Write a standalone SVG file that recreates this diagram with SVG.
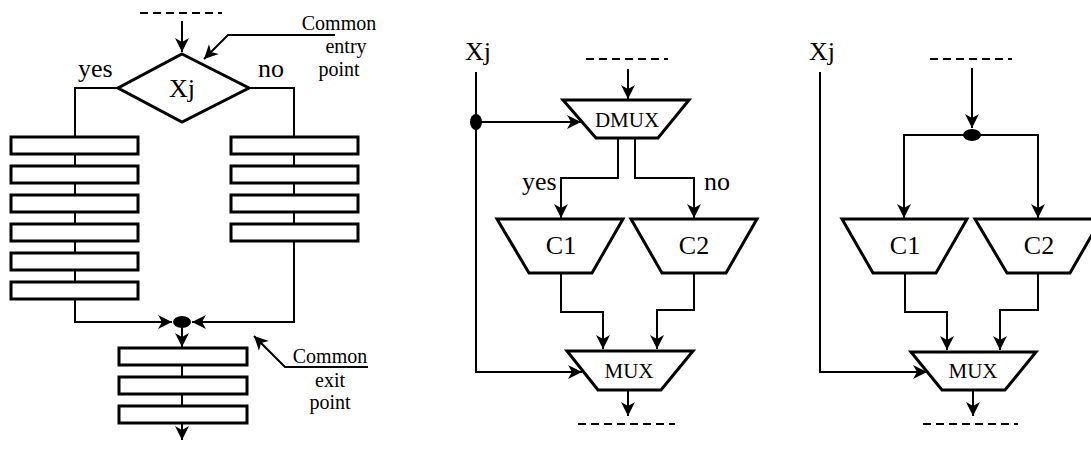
<svg xmlns="http://www.w3.org/2000/svg" width="1091" height="453" viewBox="0 0 1091 453" font-family="'Liberation Serif', 'DejaVu Serif', serif">
<style>
.shape{fill:#fff;stroke:#000;stroke-width:3;stroke-linejoin:miter}
.ln{fill:none;stroke:#000;stroke-width:2}
.dash{fill:none;stroke:#000;stroke-width:2;stroke-dasharray:8,5}
text{font-family:'Liberation Serif','DejaVu Serif',serif;fill:#000}
.big{font-size:26px}
.mid{font-size:21px}
.sm{font-size:20px}
</style>
<defs>
<marker id="ah" markerUnits="userSpaceOnUse" markerWidth="18" markerHeight="16" viewBox="-16 -8 18 16" refX="0" refY="0" orient="auto">
<path d="M0,0 L-14,-7 L-10,0 L-14,7 Z" fill="#000"/>
</marker>
</defs>
<rect width="1091" height="453" fill="#fff"/>

<!-- LEFT DIAGRAM -->
<g id="connectors-left">
<path class="dash" d="M140,13 H222"/>
<path class="ln" d="M182,21 V52" marker-end="url(#ah)"/>
<path class="ln" d="M118,88 H75 V137"/>
<path class="ln" d="M249,88 H294 V137"/>
<path class="ln" d="M75,154 V299"/>
<path class="ln" d="M294,154 V241"/>
<path class="ln" d="M75,299 V322 H172" marker-end="url(#ah)"/>
<path class="ln" d="M294,241 V322 H192" marker-end="url(#ah)"/>
<path class="ln" d="M182,328 V347" marker-end="url(#ah)"/>
<path class="ln" d="M182,365 V407"/>
<path class="ln" d="M182,423 V440" marker-end="url(#ah)"/>
<path class="ln" d="M335,35 H228 L204,59" marker-end="url(#ah)"/>
<path class="ln" d="M368,367 H285 L254,336" marker-end="url(#ah)"/>
</g>
<g id="decision-xj">
<polygon class="shape" points="182,54 249,88 182,122 118,88"/>
<text class="big" x="182" y="97" text-anchor="middle" font-family="Liberation Serif, serif">Xj</text>
</g>
<g id="yes-branch">
<rect class="shape" x="11" y="137" width="127" height="17"/>
<rect class="shape" x="11" y="166" width="127" height="17"/>
<rect class="shape" x="11" y="195" width="127" height="17"/>
<rect class="shape" x="11" y="224" width="127" height="17"/>
<rect class="shape" x="11" y="253" width="127" height="17"/>
<rect class="shape" x="11" y="282" width="127" height="17"/>
</g>
<g id="no-branch">
<rect class="shape" x="231" y="137" width="127" height="17"/>
<rect class="shape" x="231" y="166" width="127" height="17"/>
<rect class="shape" x="231" y="195" width="127" height="17"/>
<rect class="shape" x="231" y="224" width="127" height="17"/>
</g>
<g id="join-point">
<ellipse cx="182" cy="322" rx="9" ry="6" fill="#000"/>
</g>
<g id="common-block">
<rect class="shape" x="119" y="348" width="128" height="17"/>
<rect class="shape" x="119" y="377" width="128" height="17"/>
<rect class="shape" x="119" y="406" width="128" height="17"/>
</g>
<g id="labels-left" font-family="Liberation Serif, serif">
<text class="big" x="78" y="77">yes</text>
<text class="big" x="258" y="77">no</text>
<text class="sm" x="339" y="30" text-anchor="middle">Common</text>
<text class="sm" x="346" y="53" text-anchor="middle">entry</text>
<text class="sm" x="339" y="76" text-anchor="middle">point</text>
<text class="sm" x="330" y="363" text-anchor="middle">Common</text>
<text class="sm" x="330" y="387" text-anchor="middle">exit</text>
<text class="sm" x="330" y="409" text-anchor="middle">point</text>
</g>

<!-- MIDDLE DIAGRAM -->
<g id="connectors-middle">
<path class="dash" d="M586,59 H668"/>
<path class="ln" d="M628,69 V99" marker-end="url(#ah)"/>
<path class="ln" d="M476,72 V372 H582" marker-end="url(#ah)"/>
<path class="ln" d="M476,122 H581" marker-end="url(#ah)"/>
<path class="ln" d="M618,138 V178 H561 V218" marker-end="url(#ah)"/>
<path class="ln" d="M635,138 V178 H694 V218" marker-end="url(#ah)"/>
<path class="ln" d="M561,273 V312 H603 V349" marker-end="url(#ah)"/>
<path class="ln" d="M694,273 V310 H657 V349" marker-end="url(#ah)"/>
<path class="ln" d="M628,390 V416" marker-end="url(#ah)"/>
<path class="dash" d="M578,424 H675"/>
</g>
<g id="m-split">
<ellipse cx="476" cy="122" rx="6" ry="8" fill="#000"/>
</g>
<g id="m-dmux" font-family="Liberation Serif, serif">
<polygon class="shape" points="563,100 689,100 658,138 596,138"/>
<text class="mid" x="627" y="127" text-anchor="middle">DMUX</text>
</g>
<g id="m-c1" font-family="Liberation Serif, serif">
<polygon class="shape" points="497,219 623,219 592,273 529,273"/>
<text class="big" x="561" y="254" text-anchor="middle">C1</text>
</g>
<g id="m-c2" font-family="Liberation Serif, serif">
<polygon class="shape" points="631,219 757,219 726,273 662,273"/>
<text class="big" x="694" y="254" text-anchor="middle">C2</text>
</g>
<g id="m-mux" font-family="Liberation Serif, serif">
<polygon class="shape" points="567,351 693,351 661,390 598,390"/>
<text class="mid" x="629" y="378" text-anchor="middle">MUX</text>
</g>
<g id="labels-middle" font-family="Liberation Serif, serif">
<text class="big" x="465" y="60">Xj</text>
<text class="big" x="522" y="190">yes</text>
<text class="big" x="704" y="190">no</text>
</g>

<!-- RIGHT DIAGRAM -->
<g id="connectors-right">
<path class="dash" d="M930,59 H1012"/>
<path class="ln" d="M972,68 V128" marker-end="url(#ah)"/>
<path class="ln" d="M972,135 H904 V218" marker-end="url(#ah)"/>
<path class="ln" d="M972,135 H1038 V218" marker-end="url(#ah)"/>
<path class="ln" d="M820,72 V372 H927" marker-end="url(#ah)"/>
<path class="ln" d="M905,273 V312 H947 V350" marker-end="url(#ah)"/>
<path class="ln" d="M1038,273 V310 H1000 V350" marker-end="url(#ah)"/>
<path class="ln" d="M973,390 V416" marker-end="url(#ah)"/>
<path class="dash" d="M923,424 H1018"/>
</g>
<g id="r-split">
<ellipse cx="972" cy="135" rx="9" ry="6" fill="#000"/>
</g>
<g id="r-c1" font-family="Liberation Serif, serif">
<polygon class="shape" points="842,219 967,219 936,273 873,273"/>
<text class="big" x="905" y="254" text-anchor="middle">C1</text>
</g>
<g id="r-c2" font-family="Liberation Serif, serif">
<polygon class="shape" points="975,219 1101,219 1070,273 1007,273"/>
<text class="big" x="1039" y="254" text-anchor="middle">C2</text>
</g>
<g id="r-mux" font-family="Liberation Serif, serif">
<polygon class="shape" points="911,352 1036,352 1005,390 942,390"/>
<text class="mid" x="973" y="378" text-anchor="middle">MUX</text>
</g>
<g id="labels-right" font-family="Liberation Serif, serif">
<text class="big" x="809" y="60">Xj</text>
</g>
</svg>
